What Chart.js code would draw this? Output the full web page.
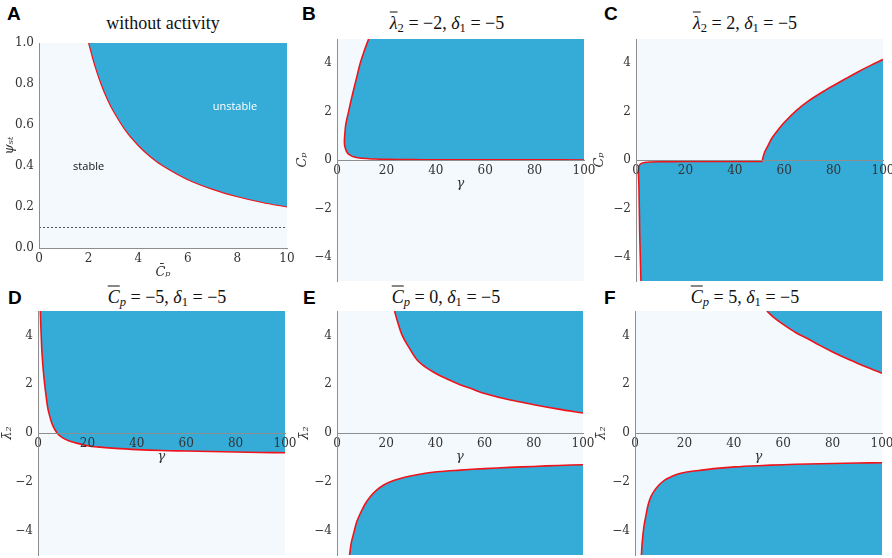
<!DOCTYPE html>
<html>
<head>
<meta charset="utf-8">
<script src="https://cdn.jsdelivr.net/npm/chart.js@4.4.1/dist/chart.umd.min.js"></script>
<style>
  html, body { margin: 0; padding: 0; background: #fff; width: 892px; height: 558px; overflow: hidden; }
  canvas { position: absolute; }
  .tag { position: absolute; font: bold 19px "Liberation Sans", Arial, sans-serif; line-height: 19px; color: #000; }
  .ttl { position: absolute; font: 18px "Liberation Serif", "DejaVu Serif", serif; color: #111; white-space: nowrap; transform: translate(-50%, -50%); }
  .ov { text-decoration: overline; }
  sub { font-size: 70%; vertical-align: -0.3em; line-height: 0; }
</style>
</head>
<body>

<div class="tag" style="left:7px;top:4px">A</div>
<div class="tag" style="left:302px;top:4px">B</div>
<div class="tag" style="left:604px;top:4px">C</div>
<div class="tag" style="left:8px;top:288px">D</div>
<div class="tag" style="left:303px;top:288px">E</div>
<div class="tag" style="left:604px;top:288px">F</div>

<div class="ttl" style="left:163px;top:23px">without activity</div>
<div class="ttl" style="left:447px;top:23px"><span class="ov"><i>λ</i></span><sub>2</sub> = −2, <i>δ</i><sub>1</sub> = −5</div>
<div class="ttl" style="left:745px;top:23px"><span class="ov"><i>λ</i></span><sub>2</sub> = 2, <i>δ</i><sub>1</sub> = −5</div>
<div class="ttl" style="left:167px;top:297px"><span class="ov"><i>C</i></span><sub><i>p</i></sub> = −5, <i>δ</i><sub>1</sub> = −5</div>
<div class="ttl" style="left:446px;top:297px"><span class="ov"><i>C</i></span><sub><i>p</i></sub> = 0, <i>δ</i><sub>1</sub> = −5</div>
<div class="ttl" style="left:745px;top:297px"><span class="ov"><i>C</i></span><sub><i>p</i></sub> = 5, <i>δ</i><sub>1</sub> = −5</div>

<canvas id="pA"></canvas>
<canvas id="pB"></canvas>
<canvas id="pC"></canvas>
<canvas id="pD"></canvas>
<canvas id="pE"></canvas>
<canvas id="pF"></canvas>

<script>
// ---- data ----

// A: boundary psi_st(C_p), without activity
const aCp  = [2, 2.25, 2.5, 2.75, 3, 3.5, 4, 4.5, 5, 6, 7, 8, 9, 10];
const aPsi = [1.0, 0.89, 0.8, 0.727, 0.667, 0.571, 0.5, 0.444, 0.4, 0.333, 0.286, 0.25, 0.222, 0.2];
const aDash = 0.1;
const aXTicks = [0, 2, 4, 6, 8, 10];
const aYTicks = [0, 0.2, 0.4, 0.6, 0.8, 1.0];
const aLabels = ['stable', 'unstable'];
const aLabelCp = [2.0, 7.9];
const aLabelPsi = [0.395, 0.69];

// B-F share the gamma axis and a symmetric side axis
const gammaTicks = [0, 20, 40, 60, 80, 100];
const sideTicks = [-4, -2, 0, 2, 4];

// B: lambda2 = -2 (boundary walked from top end round the nose to the right)
const bGamma = [12.8, 11, 9.4, 7.7, 6, 4.7, 3.6, 3.2, 3.0, 3.1, 3.5, 4.2, 5.3, 7, 10, 15, 20, 30, 40, 60, 80, 100];
const bCp    = [5.0, 4.5, 4.0, 3.3, 2.6, 2.0, 1.5, 1.1, 0.8, 0.6, 0.45, 0.3, 0.2, 0.12, 0.07, 0.04, 0.025, 0.015, 0.01, 0.006, 0.004, 0.003];

// C: lambda2 = 2 (kink at gamma = 51 listed twice to keep it sharp)
const cGamma = [2.0, 1.75, 1.5, 1.35, 1.15, 1.0, 1.1, 1.5, 2.2, 3.5, 6, 10, 20, 30, 40, 51, 51, 52, 53.5, 55, 57.5, 60, 65, 70, 75, 80, 85, 90, 95, 100];
const cCp    = [-5, -4, -3, -2, -1, -0.5, -0.3, -0.2, -0.14, -0.1, -0.08, -0.07, -0.065, -0.06, -0.06, -0.06, -0.06, 0.3, 0.6, 0.9, 1.24, 1.55, 2.05, 2.45, 2.78, 3.08, 3.37, 3.65, 3.91, 4.15];

// D: Cp = -5
const dGamma = [0.95, 1.1, 1.3, 1.5, 1.8, 2.2, 2.7, 3.3, 4, 5, 6, 7.7, 10, 12.5, 15, 20, 25, 30, 40, 50, 60, 70, 80, 90, 100];
const dLam   = [5, 4.5, 4, 3.5, 3, 2.5, 2, 1.5, 1.0, 0.6, 0.3, 0, -0.2, -0.32, -0.4, -0.52, -0.58, -0.62, -0.68, -0.72, -0.74, -0.76, -0.78, -0.8, -0.81];

// E: Cp = 0
const eUpGamma  = [23.4, 24.5, 26.5, 29, 32.5, 36, 40, 45, 50, 55, 60, 70, 80, 90, 100];
const eUpLam    = [5, 4.6, 4.0, 3.55, 3.0, 2.7, 2.45, 2.2, 1.98, 1.8, 1.62, 1.36, 1.16, 0.98, 0.82];
const eLowGamma = [5.1, 5.8, 6.8, 8, 9.5, 11.5, 13.5, 16, 19, 23, 27.1, 33, 40.7, 50, 60, 70, 80, 90, 100];
const eLowLam   = [-5, -4.5, -4.1, -3.65, -3.29, -2.9, -2.61, -2.35, -2.13, -1.95, -1.82, -1.7, -1.59, -1.52, -1.46, -1.41, -1.37, -1.33, -1.3];

// F: Cp = 5
const fUpGamma  = [53.4, 56, 60, 65, 70, 75, 80, 85, 90, 95, 100];
const fUpLam    = [5, 4.75, 4.45, 4.12, 3.86, 3.58, 3.32, 3.08, 2.86, 2.65, 2.45];
const fLowGamma = [2.6, 2.9, 3.6, 4.4, 5.3, 6.5, 8, 10, 12, 14.5, 17.4, 21, 26.9, 33, 40.4, 50, 60, 70, 80, 90, 100];
const fLowLam   = [-5, -4.5, -3.85, -3.4, -2.95, -2.6, -2.34, -2.1, -1.93, -1.8, -1.68, -1.6, -1.52, -1.45, -1.39, -1.34, -1.3, -1.27, -1.25, -1.23, -1.22];

// ---- styling ----
const BLUE = '#35acd7';
const PALE = '#f4f9fe';
const RED = '#f0141a';
const SPINE = '#8e8e8e';
const INK = '#333';
const SERIF = '"DejaVu Serif", "Liberation Serif", serif';
const TENSION = 0.35;
const gMin = 0, gMax = 100, sMin = -5, sMax = 5;

const pts = (xs, ys) => xs.map((x, i) => ({x: x, y: ys[i]}));
const minus = v => (v < 0 ? '\u2212' + Math.abs(v) : String(v));

// closed area = boundary + repeated end point + plot corner (repeats keep the spline from bulging)
function region(edgePts, corner) {
    const last = edgePts[edgePts.length - 1];
    return {data: edgePts.concat([last, corner, corner]), fill: 'shape', backgroundColor: BLUE,
            borderWidth: 0, pointRadius: 0, tension: TENSION};
}
function edge(points, w) {
    return {data: points, fill: false, borderColor: RED, borderWidth: w || 1.6, pointRadius: 0, tension: TENSION};
}

// pale face of every axes box
const paleBg = {
    id: 'paleBg',
    beforeDraw(chart) {
        const {ctx, chartArea: a} = chart;
        ctx.save();
        ctx.fillStyle = PALE;
        ctx.fillRect(a.left, a.top, a.right - a.left, a.bottom - a.top);
        ctx.restore();
    }
};

const regionText = {
    id: 'regionText',
    afterDatasetsDraw(chart) {
        const {ctx, scales} = chart;
        const colors = ['#111', '#fff'];
        ctx.save();
        ctx.font = '11px "Open Sans", "Noto Sans", sans-serif';
        ctx.textAlign = 'center';
        ctx.textBaseline = 'middle';
        aLabels.forEach((t, i) => {
            ctx.fillStyle = colors[i];
            ctx.fillText(t, scales.x.getPixelForValue(aLabelCp[i]), scales.y.getPixelForValue(aLabelPsi[i]));
        });
        ctx.restore();
    }
};

function panel(id, frame, o) {
    const padTop = 12, padRight = 13;
    const centred = !o.bottomAxis;
    const padBottom = centred ? 10 : 0;
    const xH = 32;
    const yW = frame.left - frame.cx;
    const cv = document.getElementById(id);
    cv.style.left = frame.cx + 'px';
    cv.style.top = (frame.top - padTop) + 'px';
    cv.width = yW + frame.w + padRight;
    cv.height = padTop + frame.h + (centred ? padBottom : xH);

    const axisBase = {
        type: 'linear',
        grid: {display: true, color: 'rgba(0,0,0,0)', drawOnChartArea: false, drawTicks: true, tickLength: 3},
        border: {display: true, color: SPINE, width: 1, z: 1}
    };

    return new Chart(cv, {
        type: 'line',
        data: {datasets: o.datasets},
        options: {
            responsive: false,
            animation: false,
            events: [],
            layout: {padding: {top: padTop, right: padRight, bottom: padBottom, left: 0}},
            plugins: {legend: {display: false}, tooltip: {enabled: false}},
            scales: {
                x: Object.assign({}, axisBase, {
                    min: o.xMin, max: o.xMax,
                    position: centred ? {y: 0} : 'bottom',
                    afterBuildTicks: s => { s.ticks = o.xTicks.map(v => ({value: v})); },
                    afterFit: s => { s.height = centred ? 31 : xH; },
                    ticks: {z: 1, padding: 1, color: INK, font: {family: SERIF, size: 12}, maxRotation: 0,
                            callback: o.xFmt || minus},
                    title: {display: true, text: o.xTitle, color: INK, padding: 0,
                            font: {family: SERIF, size: 13, style: 'italic'}}
                }),
                y: Object.assign({}, axisBase, {
                    min: o.yMin, max: o.yMax,
                    position: 'left',
                    afterBuildTicks: s => { s.ticks = o.yTicks.map(v => ({value: v})); },
                    afterFit: s => { s.width = yW; },
                    ticks: {z: 1, padding: 2, color: INK, font: {family: SERIF, size: 12},
                            callback: o.yFmt || minus},
                    title: {display: true, text: o.yTitle, color: INK, padding: {top: o.yTitlePad || 0, bottom: 0},
                            font: {family: SERIF, size: 13, style: 'italic'}}
                })
            }
        },
        plugins: [paleBg].concat(o.extra || [])
    });
}

// axes boxes on the page
const frames = {
    A: {cx: 0,   left: 39,  top: 43,  w: 248, h: 205},
    B: {cx: 295, left: 337, top: 39,  w: 247, h: 242},
    C: {cx: 592, left: 636, top: 39,  w: 247, h: 242},
    D: {cx: 0,   left: 38,  top: 311, w: 247, h: 244},
    E: {cx: 297, left: 337, top: 311, w: 246, h: 244},
    F: {cx: 594, left: 635, top: 311, w: 247, h: 244}
};

const aEdge = pts(aCp, aPsi);
panel('pA', frames.A, {
    bottomAxis: true,
    xMin: 0, xMax: 10, yMin: 0, yMax: 1,
    xTicks: aXTicks, yTicks: aYTicks,
    xFmt: v => String(v), yFmt: v => v.toFixed(1),
    xTitle: 'C\u0304\u209a', yTitle: '\u03c8\u209b\u209c', yTitlePad: 2,
    datasets: [
        edge(aEdge, 1.2),
        {data: pts([0, 10], [aDash, aDash]), fill: false, borderColor: '#555', borderWidth: 1, borderDash: [2, 2], pointRadius: 0},
        region(aEdge, {x: aCp[aCp.length - 1], y: 1})
    ],
    extra: [regionText]
});

const sideOpts = {xMin: gMin, xMax: gMax, yMin: sMin, yMax: sMax, xTicks: gammaTicks, yTicks: sideTicks, xTitle: '\u03b3'};

const bEdge = pts(bGamma, bCp);
panel('pB', frames.B, Object.assign({}, sideOpts, {
    yTitle: 'C\u0304\u209a',
    datasets: [edge(bEdge), region(bEdge, {x: gMax, y: sMax})]
}));

const cEdge = pts(cGamma, cCp);
panel('pC', frames.C, Object.assign({}, sideOpts, {
    yTitle: 'C\u0304\u209a',
    datasets: [edge(cEdge), region(cEdge, {x: gMax, y: sMin})]
}));

const dEdge = pts(dGamma, dLam);
panel('pD', frames.D, Object.assign({}, sideOpts, {
    yTitle: '\u03bb\u0304\u2082',
    datasets: [edge(dEdge), region(dEdge, {x: gMax, y: sMax})]
}));

const eUp = pts(eUpGamma, eUpLam), eLow = pts(eLowGamma, eLowLam);
panel('pE', frames.E, Object.assign({}, sideOpts, {
    yTitle: '\u03bb\u0304\u2082',
    datasets: [edge(eUp), edge(eLow), region(eUp, {x: gMax, y: sMax}), region(eLow, {x: gMax, y: sMin})]
}));

const fUp = pts(fUpGamma, fUpLam), fLow = pts(fLowGamma, fLowLam);
panel('pF', frames.F, Object.assign({}, sideOpts, {
    yTitle: '\u03bb\u0304\u2082',
    datasets: [edge(fUp), edge(fLow), region(fUp, {x: gMax, y: sMax}), region(fLow, {x: gMax, y: sMin})]
}));
</script>
</body>
</html>
